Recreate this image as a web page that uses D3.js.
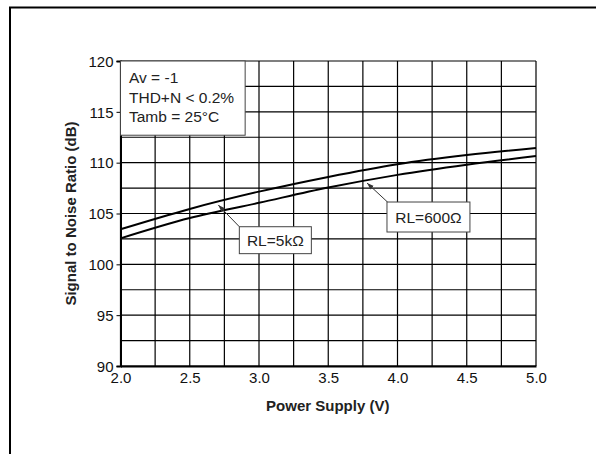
<!DOCTYPE html>
<html>
<head>
<meta charset="utf-8">
<script src="https://cdn.jsdelivr.net/npm/d3@7"></script>
<style>
  body { margin: 0; background: #fff; }
  svg { display: block; font-family: "Liberation Sans", Arial, sans-serif; }
</style>
</head>
<body>
<div id="chart"></div>
<script>
// data
const supplyV = [2.0, 2.5, 3.0, 3.5, 4.0, 4.5, 5.0];
const snr5k   = [103.45, 105.45, 107.15, 108.6, 109.85, 110.75, 111.45];
const snr600  = [102.55, 104.55, 106.05, 107.55, 108.8, 109.8, 110.65];
const xTicks = [2.0, 2.5, 3.0, 3.5, 4.0, 4.5, 5.0];
const yTicks = [90, 95, 100, 105, 110, 115, 120];
const infoLines = ["Av = -1", "THD+N < 0.2%", "Tamb = 25\u00B0C"];
const callouts = [
  { text: "RL=5k\u03A9", tip: [2.706, 105.84], tail: [2.858, 103.7], box: [2.858, 3.378, 103.7, 101.05] },
  { text: "RL=600\u03A9", tip: [3.78, 108.0], tail: [3.93, 106.1], box: [3.924, 4.523, 106.13, 103.18] }
];

const W = 596, H = 454;
const margin = { top: 61, right: 60, bottom: 88, left: 120.5 };
const width = 536 - margin.left, height = 366 - margin.top;

const root = d3.select("#chart").append("svg")
  .attr("width", W).attr("height", H);

// page frame (top + left only)
root.append("path")
  .attr("d", `M10,${H} L10,7.5 L${W},7.5`)
  .attr("fill", "none").attr("stroke", "#000").attr("stroke-width", 2);

const svg = root.append("g").attr("transform", `translate(${margin.left},${margin.top})`);

const x = d3.scaleLinear().domain([2, 5]).range([0, width]);
const y = d3.scaleLinear().domain([90, 120]).range([height, 0]);

// grid
svg.append("g").selectAll("line").data(d3.range(2, 5.001, 0.25)).join("line")
  .attr("x1", d => x(d)).attr("x2", d => x(d)).attr("y1", 0).attr("y2", height)
  .attr("stroke", "#000").attr("stroke-width", 1.2);
svg.append("g").selectAll("line").data(d3.range(90, 120.001, 2.5)).join("line")
  .attr("y1", d => y(d)).attr("y2", d => y(d)).attr("x1", 0).attr("x2", width)
  .attr("stroke", "#000").attr("stroke-width", 1.2);

// axes
const yAxis = svg.append("g")
  .call(d3.axisLeft(y).tickValues(yTicks).tickSize(4).tickPadding(3).tickFormat(d3.format("d")));
yAxis.select(".domain").attr("stroke-width", 2);
yAxis.selectAll("text").attr("font-size", 15).attr("fill", "#111").attr("dy", "0.35em");

const xAxis = svg.append("g").attr("transform", `translate(0,${height})`)
  .call(d3.axisBottom(x).tickValues(xTicks).tickSize(0).tickPadding(6).tickFormat(d3.format(".1f")));
xAxis.select(".domain").attr("stroke-width", 2);
xAxis.selectAll("text").attr("font-size", 15).attr("fill", "#111");

// curves
const line = d3.line().x(d => x(d[0])).y(d => y(d[1])).curve(d3.curveCatmullRom);
[snr5k, snr600].forEach(s => {
  svg.append("path")
    .datum(supplyV.map((v, i) => [v, s[i]]))
    .attr("fill", "none").attr("stroke", "#000").attr("stroke-width", 2)
    .attr("d", line);
});

// info box
svg.append("rect")
  .attr("x", x(2.0)).attr("y", y(120))
  .attr("width", x(2.9) - x(2.0)).attr("height", y(112.7) - y(120))
  .attr("fill", "#fff").attr("stroke", "#444").attr("stroke-width", 1);
svg.append("g").selectAll("text").data(infoLines).join("text")
  .attr("x", x(2.0) + 8.5).attr("y", (d, i) => 22 + i * 19.7)
  .attr("font-size", 15.5).attr("fill", "#222").text(d => d);

// callouts
root.append("defs").append("marker")
  .attr("id", "arr").attr("viewBox", "0 0 10 10").attr("refX", 10).attr("refY", 5)
  .attr("markerWidth", 7).attr("markerHeight", 7).attr("orient", "auto")
  .append("path").attr("d", "M0,1.5 L10,5 L0,8.5 Z").attr("fill", "#333");

callouts.forEach(c => {
  svg.append("line")
    .attr("x1", x(c.tail[0])).attr("y1", y(c.tail[1]))
    .attr("x2", x(c.tip[0])).attr("y2", y(c.tip[1]))
    .attr("stroke", "#333").attr("stroke-width", 1).attr("marker-end", "url(#arr)");
  svg.append("rect")
    .attr("x", x(c.box[0])).attr("y", y(c.box[2]))
    .attr("width", x(c.box[1]) - x(c.box[0])).attr("height", y(c.box[3]) - y(c.box[2]))
    .attr("fill", "#fff").attr("stroke", "#444").attr("stroke-width", 1);
  svg.append("text")
    .attr("x", (x(c.box[0]) + x(c.box[1])) / 2)
    .attr("y", (y(c.box[2]) + y(c.box[3])) / 2 + 5.5)
    .attr("text-anchor", "middle").attr("font-size", 15.5).attr("fill", "#222")
    .text(c.text);
});

// axis titles
root.append("text")
  .attr("transform", `translate(76,${margin.top + height / 2}) rotate(-90)`)
  .attr("text-anchor", "middle").attr("font-size", 15).attr("font-weight", "bold")
  .attr("fill", "#222").text("Signal to Noise Ratio (dB)");
root.append("text")
  .attr("x", margin.left + width / 2 - 0.5).attr("y", 411)
  .attr("text-anchor", "middle").attr("font-size", 15).attr("font-weight", "bold")
  .attr("fill", "#222").text("Power Supply (V)");
</script>
</body>
</html>
